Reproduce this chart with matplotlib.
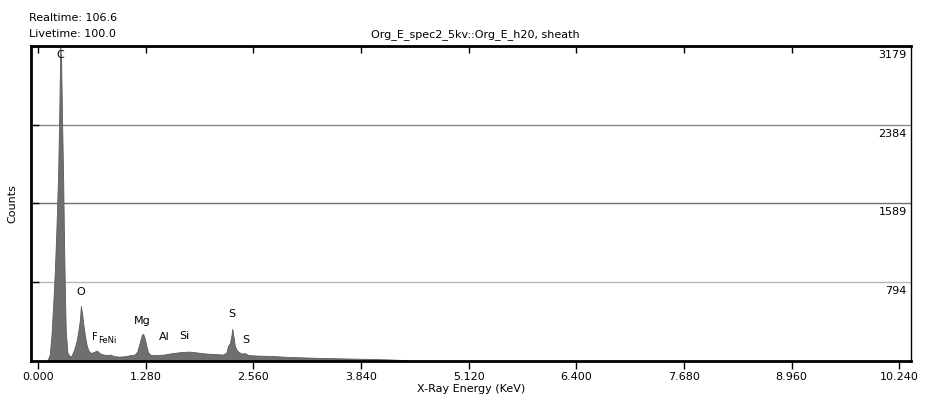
import matplotlib.pyplot as plt

# spectrum: energy (keV) and counts
energy = [0.10, 0.12, 0.14, 0.16, 0.18, 0.20, 0.22, 0.24, 0.255, 0.265, 0.275, 0.285,
          0.30, 0.31, 0.32, 0.33, 0.35, 0.38, 0.40, 0.43, 0.46, 0.48, 0.50, 0.51, 0.525,
          0.54, 0.56, 0.58, 0.60, 0.63, 0.66, 0.70, 0.74, 0.78, 0.82, 0.86, 0.90,
          0.95, 1.00, 1.05, 1.10, 1.15, 1.18, 1.21, 1.235, 1.25, 1.27, 1.29, 1.31,
          1.34, 1.40, 1.50, 1.60, 1.70, 1.80, 1.90, 2.00, 2.10, 2.20, 2.24, 2.26,
          2.28, 2.30, 2.31, 2.325, 2.34, 2.36, 2.38, 2.42, 2.46, 2.50, 2.60, 2.80,
          3.00, 3.20, 3.40, 3.60, 3.80, 4.00, 4.20, 4.35, 4.40]
counts = [0, 15, 60, 250, 550, 900, 1350, 1900, 2600, 3179, 3050, 2500,
          1800, 1200, 700, 300, 80, 40, 50, 110, 200, 300, 420, 550, 470,
          360, 240, 150, 100, 75, 85, 100, 70, 60, 55, 60, 45,
          40, 40, 45, 55, 60, 90, 180, 260, 270, 220, 140, 80,
          55, 55, 60, 75, 85, 90, 80, 70, 65, 60, 80, 150,
          170, 250, 320, 240, 150, 110, 90, 70, 75, 55, 50, 45,
          35, 30, 25, 22, 18, 15, 10, 5, 0]

grid_counts = [794, 1589, 2384, 3179]
x_ticks = [0.0, 1.28, 2.56, 3.84, 5.12, 6.40, 7.68, 8.96, 10.24]

peak_labels = ["C", "O", "F", "FeNi", "Mg", "Al", "Si", "S", "S"]
label_e = [0.27, 0.51, 0.68, 0.82, 1.24, 1.50, 1.74, 2.30, 2.47]
label_c = [3090, 690, 235, 200, 400, 240, 250, 470, 210]
label_size = [8, 8, 7, 6, 8, 8, 8, 8, 8]

fig = plt.figure(figsize=(9.27, 4.07), dpi=100)
ax = fig.add_axes([31/927, 1-360.5/407, 880/927, 314.5/407])

ax.fill_between(energy, counts, 0, color="#6f6f6f", linewidth=0.6, edgecolor="#5a5a5a")

gcolors = ["#b8b8b8", "#707070", "#8a8a8a", "black"]
for g, c in zip(grid_counts, gcolors):
    ax.axhline(g, color=c, linewidth=1, zorder=0)
    ax.text(10.33, g - 40, str(g), ha="right", va="top", fontsize=8)

for t, e, c, s in zip(peak_labels, label_e, label_c, label_size):
    ax.text(e, c, t, ha="center", va="center", fontsize=s)

ax.set_xlim(-0.083, 10.38)
ax.set_ylim(0, 3179)
ax.set_xticks(x_ticks)
ax.set_xticklabels(["%.3f" % t for t in x_ticks], fontsize=8)
ax.set_yticks(grid_counts)
ax.set_yticklabels([])
ax.tick_params(axis="x", direction="out", length=6, width=1, pad=2,
               top=True)
ax.tick_params(axis="y", direction="in", length=6, width=1, left=True)
ticks = ax.xaxis.get_major_ticks()
for t in ticks:
    t.tick2line.set_marker(3)  # top ticks pointing down into the plot
    t.tick2line.set_markersize(5)
ticks[-1].tick2line.set_visible(False)

ax.spines["top"].set_linewidth(2)
ax.spines["left"].set_linewidth(2)
ax.spines["bottom"].set_linewidth(2)
ax.spines["right"].set_linewidth(1)

ax.set_xlabel("X-Ray Energy (KeV)", fontsize=8, labelpad=2)
ax.set_ylabel("Counts", fontsize=8, labelpad=6)

fig.text(29/927, 1-18/407, "Realtime: 106.6", fontsize=8, va="center")
fig.text(29/927, 1-34/407, "Livetime: 100.0", fontsize=8, va="center")
fig.text(475/927, 1-35/407, "Org_E_spec2_5kv::Org_E_h20, sheath", fontsize=8,
         ha="center", va="center")

fig.savefig("out.png", dpi=100)
